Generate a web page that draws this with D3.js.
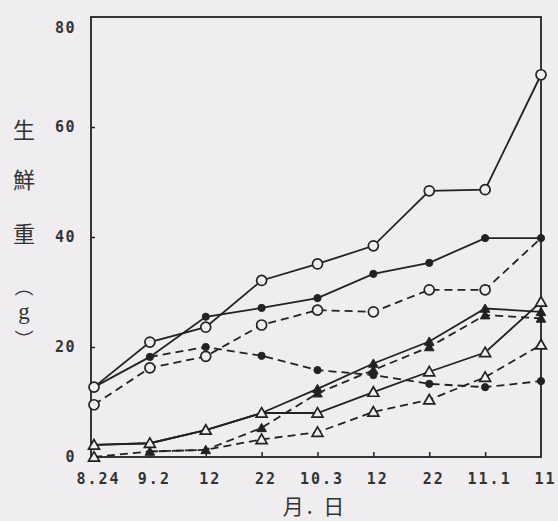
<!DOCTYPE html>
<html>
<head>
<meta charset="utf-8">
<script src="https://cdn.jsdelivr.net/npm/d3@7"></script>
<style>
  html, body { margin: 0; padding: 0; background: #efedef; }
  svg { display: block; }
</style>
</head>
<body>
<svg id="chart" width="558" height="521"></svg>
<script>
// Sampling dates (month.day)
const dateLabels = ["8.24", "9.2", "12", "22", "10.3", "12", "22", "11.1", "11"];
const yTicks = [0, 20, 40, 60, 80];

// Fresh weight (g) per treatment
const openCircleSolid   = [12.7, 20.9, 23.6, 32.1, 35.1, 38.4, 48.4, 48.6, 69.5];
const filledCircleSolid = [12.7, 18.2, 25.5, 27.1, 28.9, 33.3, 35.3, 39.8, 39.8];
const openCircleDashed  = [9.5, 16.2, 18.3, 24.0, 26.7, 26.4, 30.4, 30.4, 39.8];
const filledCircleDashed = [null, 18.2, 20.0, 18.4, 15.8, 14.9, 13.3, 12.7, 13.8];
const openTriSolid      = [2.2, 2.5, 4.9, 8.0, 8.0, 11.8, 15.5, 19.0, 28.2];
const filledTriSolid    = [2.2, 2.5, 4.9, 8.0, 12.4, 17.0, 21.0, 27.0, 26.4];
const filledTriDashed   = [null, 1.0, 1.3, 5.3, 11.6, 15.8, 20.0, 25.8, 25.2];
const openTriDashed     = [0, 1.0, 1.3, 3.2, 4.5, 8.2, 10.4, 14.5, 20.4];

const BG = "#efedef";
const INK = "#222";

const series = [
  { values: openCircleSolid,   shape: "circle",   filled: false, dashed: false },
  { values: filledCircleSolid, shape: "circle",   filled: true,  dashed: false },
  { values: openCircleDashed,  shape: "circle",   filled: false, dashed: true },
  { values: filledCircleDashed, shape: "circle",  filled: true,  dashed: true },
  { values: openTriSolid,      shape: "triangle", filled: false, dashed: false },
  { values: filledTriSolid,    shape: "triangle", filled: true,  dashed: false },
  { values: filledTriDashed,   shape: "triangle", filled: true,  dashed: true },
  { values: openTriDashed,     shape: "triangle", filled: false, dashed: true }
];

const svg = d3.select("#chart");
svg.append("rect").attr("width", 558).attr("height", 521).attr("fill", BG);

const frame = { left: 91, right: 541, top: 17, bottom: 457 };

const x = d3.scalePoint()
  .domain(d3.range(dateLabels.length))
  .range([94, frame.right]);

const y = d3.scaleLinear()
  .domain([0, 80])
  .range([frame.bottom, frame.top]);

// Frame
svg.append("rect")
  .attr("x", frame.left).attr("y", frame.top)
  .attr("width", frame.right - frame.left)
  .attr("height", frame.bottom - frame.top)
  .attr("fill", "none")
  .attr("stroke", INK)
  .attr("stroke-width", 1.8);

const tickFont = "'DejaVu Sans Mono', monospace";

// Y axis
const yAxis = svg.append("g")
  .attr("transform", `translate(${frame.left},0)`)
  .call(d3.axisLeft(y).tickValues(yTicks).tickSize(-4).tickSizeOuter(0).tickPadding(15));
yAxis.select(".domain").remove();
yAxis.selectAll(".tick line").attr("stroke", INK).attr("stroke-width", 1.5)
  .filter(d => d === 0 || d === 80).remove();
yAxis.selectAll(".tick text")
  .attr("fill", "#333")
  .style("font-family", tickFont)
  .style("font-size", "15px")
  .style("font-weight", "bold")
  .style("letter-spacing", "1.5px")
  .filter(d => d === 80).attr("dy", "1.05em");

// X axis
const xAxis = svg.append("g")
  .attr("transform", `translate(0,${frame.bottom})`)
  .call(d3.axisBottom(x).tickFormat(i => dateLabels[i]).tickSize(-5).tickSizeOuter(0));
xAxis.select(".domain").remove();
xAxis.selectAll(".tick line").attr("stroke", INK).attr("stroke-width", 1.5)
  .filter(i => i === 0 || i === dateLabels.length - 1).remove();
xAxis.selectAll(".tick text")
  .attr("y", 27).attr("dy", 0).attr("dx", 4)
  .attr("fill", "#333")
  .style("font-family", tickFont)
  .style("font-size", "15px")
  .style("font-weight", "bold")
  .style("letter-spacing", "2px");

// Axis titles
const cjk = "'Noto Sans CJK JP', 'Noto Sans CJK SC', sans-serif";
svg.append("text")
  .attr("x", 315).attr("y", 514)
  .attr("text-anchor", "middle")
  .attr("fill", "#333")
  .style("font-family", cjk)
  .style("font-size", "21px")
  .style("letter-spacing", "3px")
  .text("月. 日");

// Vertical title: 生鮮重 (g), brackets in their vertical presentation forms
const yTitle = [
  { t: "生", y: 128, size: 22, font: cjk },
  { t: "鮮", y: 178, size: 22, font: cjk },
  { t: "重", y: 232, size: 22, font: cjk },
  { t: "\uFE35", y: 285, size: 19, font: cjk },
  { t: "g", y: 311, size: 23, font: "'Liberation Serif', serif" },
  { t: "\uFE36", y: 338, size: 19, font: cjk }
];
svg.append("g").selectAll("text")
  .data(yTitle)
  .join("text")
  .attr("x", 24).attr("y", d => d.y)
  .attr("text-anchor", "middle")
  .attr("dominant-baseline", "central")
  .attr("fill", "#333")
  .style("font-family", d => d.font)
  .style("font-size", d => d.size + "px")
  .text(d => d.t);

// Lines
const line = d3.line()
  .defined(d => d != null)
  .x((d, i) => x(i))
  .y(d => y(d));

const plot = svg.append("g");
series.forEach(s => {
  plot.append("path")
    .datum(s.values)
    .attr("d", line)
    .attr("fill", "none")
    .attr("stroke", INK)
    .attr("stroke-width", 1.8)
    .attr("stroke-dasharray", s.dashed ? "8,5" : null);
});

// Markers (a point already marked by an earlier series is not drawn twice)
const marked = new Set();
const tri = d3.symbol().type(d3.symbolTriangle);
series.forEach(s => {
  s.values.forEach((v, i) => {
    if (v == null) return;
    const key = `${s.shape}|${i}|${v}`;
    if (marked.has(key)) return;
    marked.add(key);
    const cx = x(i), cy = y(v);
    if (s.shape === "circle") {
      plot.append("circle")
        .attr("cx", cx).attr("cy", cy)
        .attr("r", s.filled ? 3.6 : 5)
        .attr("fill", s.filled ? INK : BG)
        .attr("stroke", INK)
        .attr("stroke-width", s.filled ? 1 : 1.7);
    } else {
      plot.append("path")
        .attr("d", tri.size(s.filled ? 40 : 52)())
        .attr("transform", `translate(${cx},${cy + 1})`)
        .attr("fill", s.filled ? INK : BG)
        .attr("stroke", INK)
        .attr("stroke-width", s.filled ? 1 : 1.7);
    }
  });
});
</script>
</body>
</html>
